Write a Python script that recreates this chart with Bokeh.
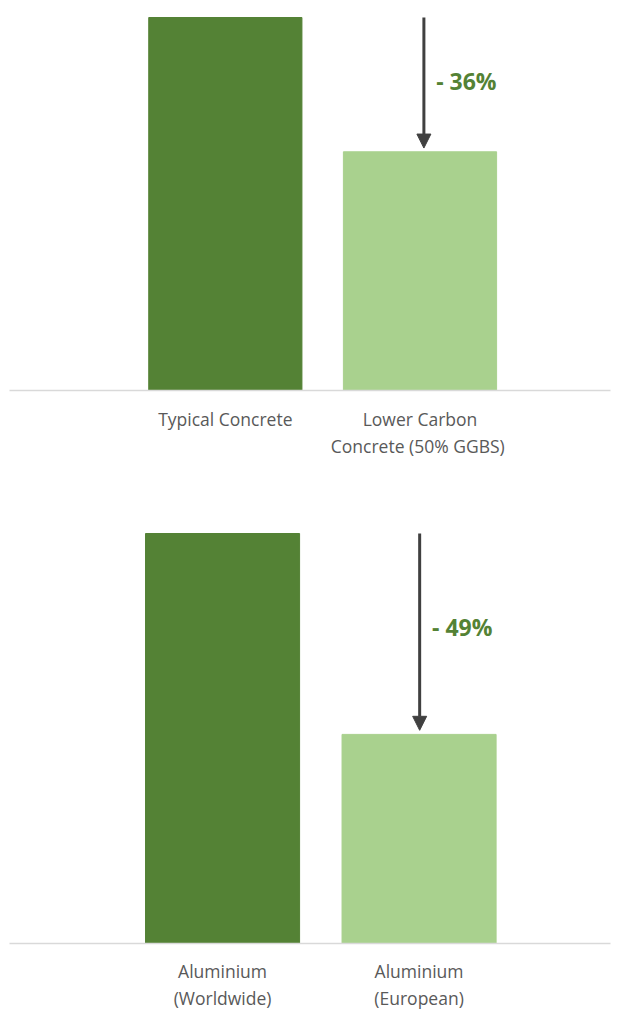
from bokeh.plotting import figure
from bokeh.layouts import column
from bokeh.models import Range1d, Arrow, NormalHead, ColumnDataSource
from bokeh.core.properties import value
from bokeh.embed import file_html
from bokeh.resources import INLINE

# ---- data ----
concrete_labels = ["Typical Concrete", "Lower Carbon\nConcrete  (50% GGBS)"]
concrete_values = [100, 64]
aluminium_labels = ["Aluminium\n(Worldwide)", "Aluminium\n(European)"]
aluminium_values = [100, 51]

DARK = "#548235"
LIGHT = "#a9d18e"
FONT = "Open Sans"


def make_chart(labels, values, height, x_start, x_end, y_start, y_end, label_y,
               bar_w, ax, pct_dy):
    xs = [1, 2]
    p = figure(width=620, height=height, output_backend="svg", toolbar_location=None,
               x_range=Range1d(x_start, x_end), y_range=Range1d(y_start, y_end),
               min_border=0, outline_line_color=None)
    p.axis.visible = False
    p.grid.visible = False
    p.background_fill_color = "white"

    src = ColumnDataSource(dict(x=xs, top=values, color=[DARK, LIGHT], label=labels))
    p.vbar(x="x", top="top", bottom=0, width=bar_w, color="color", source=src)

    # baseline
    span = x_end - x_start
    p.segment(x0=[x_start + span * 9 / 620], x1=[x_start + span * 610 / 620],
              y0=[0], y1=[0], line_color="#d9d9d9", line_width=1.5)

    # category labels
    p.text(x="x", y=label_y, text="label", source=src, text_align="center",
           text_baseline="top", text_font=value(FONT), text_font_size="17.5px",
           text_color="#595959", text_line_height=1.12)

    # arrow + percentage
    p.add_layout(Arrow(end=NormalHead(size=14, fill_color="#404040", line_color="#404040"),
                       x_start=ax, y_start=values[0], x_end=ax, y_end=values[1] + 1,
                       line_color="#404040", line_width=3))
    pct = round((1 - values[1] / values[0]) * 100)
    p.text(x=[ax + 0.063], y=[(values[0] + values[1]) / 2 + pct_dy], text=[f"- {pct}%"],
           text_align="left", text_baseline="middle", text_font=value(FONT),
           text_font_size="23px", text_font_style="bold", text_color=DARK)
    return p


p1 = make_chart(concrete_labels, concrete_values, 505, -0.155, 3.03, -30.83, 104.56,
                -4.4, 0.787, 2.02, 1.0)
p2 = make_chart(aluminium_labels, aluminium_values, 504, -0.13, 3.025, -16.1, 106.83,
                -3.9, 0.784, 2.003, 1.6)

layout = column(p1, p2, spacing=0)
open("out.html", "w").write(file_html(layout, INLINE))
